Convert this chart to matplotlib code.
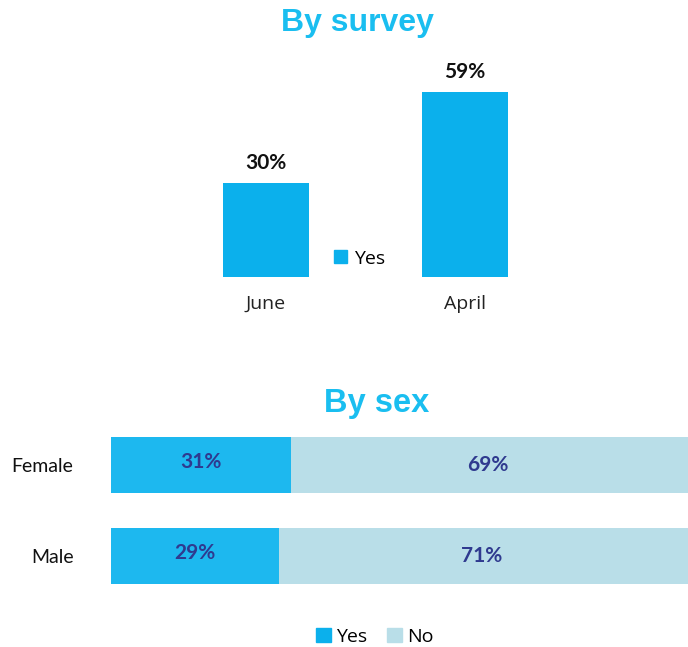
import matplotlib
matplotlib.use('Agg')
import matplotlib.pyplot as plt
from matplotlib.patches import Patch

# survey results
surveys = ['June', 'April']
survey_yes = [30, 59]

sexes = ['Female', 'Male']
sex_yes = [31, 29]
sex_no = [69, 71]

TITLE_COLOR = '#1ABEF0'
YES_TOP = '#0BB0EC'
YES_BOTTOM = '#1DB8EF'
NO_COLOR = '#B9DEE8'
LABEL_COLOR = '#2F3A8F'
NARROW = ['Lato', 'DejaVu Sans']
WIDE = ['Open Sans', 'DejaVu Sans']

fig = plt.figure(figsize=(6.88, 6.47), dpi=100)

# --- By survey ---
ax1 = fig.add_axes((0.218, 0.5719, 0.625, 0.3509))
x = range(len(surveys))
bars = ax1.bar(x, survey_yes, width=0.43, color=YES_TOP)
for b, v in zip(bars, survey_yes):
    ax1.text(b.get_x() + b.get_width() / 2, v + 3.2, f'{v}%', ha='center', va='bottom',
             fontsize=15, fontweight='bold', family=NARROW, color='#111111')
ax1.set_xlim(-0.583, 1.578)
ax1.set_ylim(0, 72.5)
ax1.set_xticks(list(x))
ax1.set_xticklabels(surveys, fontsize=14, family=WIDE, color='#222222')
ax1.tick_params(axis='x', length=0, pad=13)
ax1.set_yticks([])
for s in ax1.spines.values():
    s.set_visible(False)

fig.text(0.519, 0.964, 'By survey', ha='center', va='center', fontsize=23,
         fontweight='bold', family='Liberation Sans', color=TITLE_COLOR)
fig.legend(handles=[Patch(color=YES_TOP, label='Yes')], loc='center',
           bbox_to_anchor=(0.523, 0.600), frameon=False, handlelength=0.65,
           handleheight=0.65, handletextpad=0.4, prop={'family': WIDE, 'size': 14})

# --- By sex ---
ax2 = fig.add_axes((0.1613, 0.0726, 0.843, 0.2782))
y = range(len(sexes))
yes_bars = ax2.barh(y, sex_yes, height=0.615, color=YES_BOTTOM)
no_bars = ax2.barh(y, sex_no, left=sex_yes, height=0.615, color=NO_COLOR)
for b, v in zip(yes_bars, sex_yes):
    ax2.text(b.get_x() + b.get_width() / 2, b.get_y() + b.get_height() / 2 - 0.03, f'{v}%',
             ha='center', va='center', fontsize=15, fontweight='bold', family=NARROW,
             color=LABEL_COLOR)
for b, v in zip(no_bars, sex_no):
    ax2.text(b.get_x() + b.get_width() / 2 - 0.6, b.get_y() + b.get_height() / 2, f'{v}%',
             ha='center', va='center', fontsize=15, fontweight='bold', family=NARROW,
             color=LABEL_COLOR)
ax2.set_xlim(0, 100)
ax2.set_ylim(1.484, -0.495)
ax2.set_yticks(list(y))
ax2.set_yticklabels(sexes, fontsize=14, family=NARROW, color='#111111')
ax2.tick_params(axis='y', length=0, pad=27)
ax2.set_xticks([])
for s in ax2.spines.values():
    s.set_visible(False)

fig.text(0.548, 0.3756, 'By sex', ha='center', va='center', fontsize=23.5,
         fontweight='bold', family='Liberation Sans', color=TITLE_COLOR)
fig.legend(handles=[Patch(color=YES_TOP, label='Yes'), Patch(color=NO_COLOR, label='No')],
           loc='center', bbox_to_anchor=(0.545, 0.0155), ncol=2, frameon=False,
           handlelength=0.75, handleheight=0.75, handletextpad=0.3, columnspacing=1.0,
           prop={'family': WIDE, 'size': 14})

fig.savefig('out.png', dpi=100)
